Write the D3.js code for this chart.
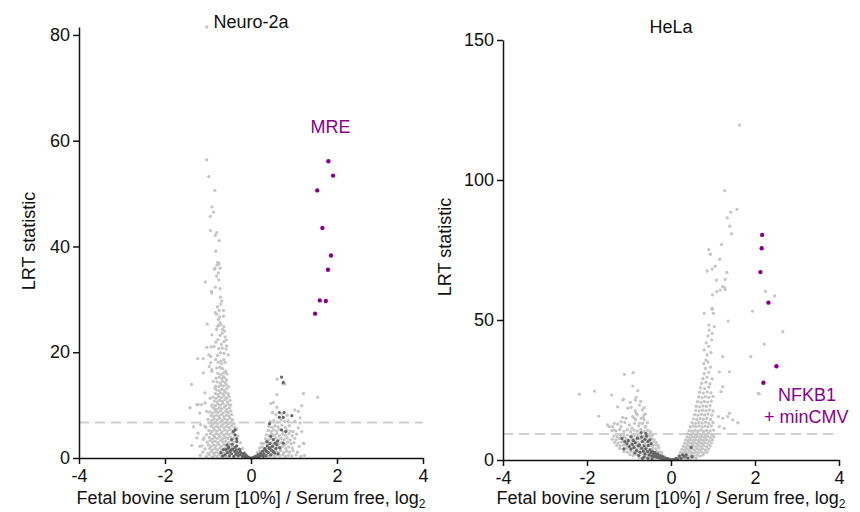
<!DOCTYPE html>
<html>
<head>
<meta charset="utf-8">
<script src="https://cdn.jsdelivr.net/npm/d3@7"></script>
<style>
body { margin: 0; background: #fff; }
text { font-family: 'Liberation Sans', Arial, sans-serif; fill: #111; }
</style>
</head>
<body>
<svg id="chart" width="860" height="512"></svg>
<script>
const xTicks = [-4, -2, 0, 2, 4];
const n2aTicks = [0, 20, 40, 60, 80];
const helaTicks = [0, 50, 100, 150];
const n2aCutoff = 6.7;
const helaCutoff = 9.3;

// Neuro-2a, light grey points [log2 ratio, LRT]
const n2aGrey = [
  [-1.03,81.5],[-1.03,56.4],[-0.98,53.2],[-0.84,50.6],[-0.91,47.5],[-0.87,46.5],[-0.95,45.7],[-0.94,43.0],[-0.80,42.6],[-0.83,42.1],
  [-0.74,41.1],[-0.82,39.1],[-0.77,37.0],[-0.74,36.7],[-0.84,35.9],[-0.72,35.9],[-0.79,36.5],[-0.85,35.7],[-0.76,35.0],[-1.06,33.3],
  [-0.83,32.3],[-0.72,32.0],[-0.92,31.5],[-0.91,31.2],[-0.68,29.7],[-0.70,29.1],[-0.74,27.9],[-0.64,27.9],[-0.83,27.5],[-0.80,27.2],
  [-0.73,26.7],[-0.64,26.8],[-0.72,25.6],[-0.75,25.1],[-0.78,24.9],[-1.02,25.3],[-0.66,24.3],[-0.61,24.0],[-0.63,24.8],[-0.91,23.3],
  [-0.60,22.9],[-0.58,22.3],[-0.63,22.0],[-0.82,21.9],[-1.03,20.9],[-0.93,21.0],[-0.86,21.1],[-0.67,20.8],[-0.57,21.2],[-0.58,20.6],
  [-0.98,19.5],[-0.94,19.2],[-0.63,19.8],[-0.53,19.5],[-1.24,18.8],[-1.11,18.8],[-0.82,18.6],[-0.94,18.0],[-0.70,18.3],[-0.60,18.1],
  [-0.97,17.3],[-0.91,16.7],[-0.70,17.0],[-1.11,16.1],[-0.56,15.9],
  [-1.38,13.9],[-0.91,16.4],[-0.88,14.5],[-0.64,15.4],[-0.57,14.8],[-0.84,13.2],[-1.07,12.3],[-0.95,11.3],[-1.23,10.1],[-1.15,10.1],
  [-1.07,10.4],[-1.42,9.5],[-1.19,8.5],[-0.91,9.8],[-1.03,8.8],[-1.07,6.0],[-1.23,4.7],[-1.11,3.5],[-1.26,3.8],[-1.19,2.2],
  [-1.38,2.4],[-1.17,6.3],[-1.34,5.9],[-1.26,10.1],
  [-1.18,0.5],[-1.04,0.3],[-0.97,0.6],[-0.90,0.2],[-0.85,0.5],[-0.79,0.3],[-0.73,0.6],[-0.68,0.2],[-0.62,0.4],[-0.57,0.2],
  [-1.12,1.1],[-1.00,0.9],[-0.93,1.2],[-0.87,0.9],[-0.81,1.1],[-0.75,0.9],[-0.70,1.2],[-0.64,0.9],[-0.58,1.1],[-0.51,0.8],
  [-1.07,1.7],[-0.96,1.8],[-0.90,1.5],[-0.84,1.8],[-0.78,1.6],[-0.72,1.9],[-0.67,1.5],[-0.61,1.8],[-0.54,1.6],[-0.47,1.9],[-0.42,1.5],
  [-1.14,2.3],[-0.99,2.5],[-0.93,2.2],[-0.87,2.5],[-0.81,2.3],[-0.75,2.6],[-0.69,2.2],[-0.63,2.5],[-0.57,2.3],[-0.50,2.6],[-0.43,2.3],
  [-1.02,3.0],[-0.95,3.3],[-0.89,3.0],[-0.83,3.2],[-0.77,2.9],[-0.71,3.3],[-0.65,3.0],[-0.59,3.2],[-0.52,2.9],[-0.46,3.3],[-0.40,3.0],
  [-1.09,3.8],[-0.97,3.9],[-0.90,3.6],[-0.84,3.9],[-0.78,3.7],[-0.72,4.0],[-0.66,3.6],[-0.60,3.9],[-0.54,3.7],[-0.48,4.0],[-0.41,3.7],[-0.35,3.9],
  [-1.03,4.4],[-0.94,4.6],[-0.87,4.3],[-0.81,4.6],[-0.75,4.4],[-0.69,4.7],[-0.63,4.3],[-0.57,4.6],[-0.51,4.4],[-0.44,4.7],[-0.38,4.4],
  [-0.98,5.2],[-0.91,5.0],[-0.85,5.3],[-0.79,5.1],[-0.73,5.4],[-0.67,5.0],[-0.61,5.3],[-0.55,5.1],[-0.49,5.4],[-0.42,5.1],[-0.36,5.3],
  [-1.05,5.8],[-0.93,6.0],[-0.87,5.7],[-0.81,6.0],[-0.75,5.8],[-0.69,6.1],[-0.63,5.7],[-0.57,6.0],[-0.51,5.8],[-0.45,6.1],[-0.38,5.8],
  [-0.96,6.6],[-0.89,6.4],[-0.83,6.7],[-0.77,6.5],[-0.71,6.8],[-0.65,6.4],[-0.59,6.7],[-0.53,6.5],[-0.47,6.8],[-0.40,6.5],
  [-1.00,7.3],[-0.91,7.1],[-0.85,7.4],[-0.79,7.2],[-0.73,7.5],[-0.67,7.1],[-0.61,7.4],[-0.55,7.2],[-0.49,7.5],[-0.43,7.2],
  [-0.93,8.0],[-0.87,7.8],[-0.81,8.1],[-0.75,7.9],[-0.69,8.2],[-0.63,7.8],[-0.57,8.1],[-0.51,7.9],[-0.45,8.2],
  [-0.96,8.7],[-0.89,8.5],[-0.83,8.8],[-0.77,8.6],[-0.71,8.9],[-0.65,8.5],[-0.59,8.8],[-0.53,8.6],[-0.47,8.9],
  [-0.86,9.4],[-0.80,9.2],[-0.74,9.5],[-0.68,9.3],[-0.62,9.6],[-0.56,9.2],[-0.50,9.5],
  [-0.90,10.1],[-0.83,9.9],[-0.77,10.2],[-0.71,10.0],[-0.65,10.3],[-0.59,9.9],[-0.53,10.2],[-0.47,10.0],
  [-0.85,10.8],[-0.79,10.6],[-0.73,10.9],[-0.67,10.7],[-0.61,11.0],[-0.55,10.6],[-0.49,10.9],
  [-0.88,11.5],[-0.81,11.3],[-0.75,11.6],[-0.69,11.4],[-0.63,11.7],[-0.57,11.3],[-0.51,11.6],
  [-0.83,12.2],[-0.77,12.0],[-0.71,12.3],[-0.65,12.1],[-0.59,12.4],[-0.53,12.1],
  [-0.80,12.9],[-0.74,12.7],[-0.68,13.0],[-0.62,12.8],[-0.56,13.1],
  [-0.82,13.6],[-0.75,13.5],[-0.70,13.8],[-0.64,13.6],[-0.58,13.9],[-0.52,13.5],
  [-0.79,14.4],[-0.72,14.2],[-0.66,14.5],[-0.60,14.3],[-0.81,15.1],[-0.74,15.3],[-0.68,15.0],[-0.62,15.2],
  [-0.77,16.0],[-0.70,15.8],[-0.64,16.1],[-0.59,16.4],[-0.80,17.0],[-0.73,17.2],[-0.66,16.9],
  [-0.76,18.1],[-0.68,17.8],[-0.63,18.6],[-0.78,19.4],[-0.71,19.9],[-0.75,20.7],[-0.69,21.5],[-0.77,22.4],[-0.72,23.2],
  [-0.67,23.6],[-0.80,24.3],[-0.70,25.2],[-0.76,26.2],[-0.78,28.6],[-0.71,30.4],[-0.75,33.7],[-0.80,34.4],
  [-0.10,0.4],[-0.15,1.0],[-0.20,1.8],[-0.25,2.9],[-0.30,4.2],[-0.33,5.5],[0.10,0.4],[0.15,1.0],[0.20,1.9],[0.24,2.8],
  [0.16,0.3],[0.22,0.6],[0.30,0.3],[0.36,0.6],[0.42,0.3],[0.48,0.5],[0.55,0.3],[0.61,0.6],[0.67,0.4],[0.74,0.6],[0.80,0.3],[0.87,0.5],[0.95,0.4],[1.05,0.6],[1.16,0.3],[1.24,0.5],
  [0.20,1.3],[0.27,1.0],[0.33,1.3],[0.39,1.1],[0.45,1.4],[0.51,1.0],[0.57,1.3],[0.63,1.1],[0.69,1.4],[0.76,1.0],[0.83,1.3],[0.90,1.1],[0.98,1.4],[1.08,1.1],
  [0.26,2.1],[0.32,1.8],[0.38,2.1],[0.44,1.9],[0.50,2.2],[0.56,1.8],[0.62,2.1],[0.68,1.9],[0.74,2.2],[0.81,1.8],[0.88,2.1],[0.96,1.9],[1.12,2.2],
  [0.29,2.7],[0.35,3.0],[0.41,2.7],[0.47,2.9],[0.53,2.6],[0.59,3.0],[0.65,2.7],[0.71,2.9],[0.78,2.6],[0.85,3.0],[0.93,2.7],[1.00,2.9],[1.23,2.7],
  [0.34,3.6],[0.40,3.4],[0.46,3.7],[0.52,3.5],[0.58,3.8],[0.64,3.4],[0.70,3.7],[0.77,3.5],[0.84,3.8],[0.91,3.4],[1.02,3.7],
  [0.36,4.4],[0.42,4.2],[0.48,4.5],[0.54,4.3],[0.60,4.6],[0.66,4.2],[0.73,4.5],[0.80,4.3],[0.88,4.6],[0.96,4.2],[1.06,4.5],
  [0.40,5.2],[0.47,5.0],[0.53,5.3],[0.60,5.1],[0.67,5.4],[0.75,5.0],[0.84,5.3],[0.92,5.1],[0.98,5.0],[1.18,5.0],
  [0.42,6.0],[0.49,5.8],[0.56,6.1],[0.63,5.9],[0.72,6.2],[0.80,5.8],[0.89,6.1],[1.02,6.9],[1.14,6.6],[1.10,5.7],
  [0.45,6.9],[0.53,7.1],[0.62,6.8],[0.70,7.2],[0.78,6.9],[0.86,7.0],[1.14,7.6],
  [0.50,8.6],[0.58,8.2],[0.60,9.6],[0.72,8.3],[0.84,8.1],[1.02,9.1],[1.10,8.8],[0.52,10.5],[0.46,10.3],[0.60,12.0],
  [1.22,12.2],[1.55,11.5],[1.18,9.9],[0.61,14.9],[0.74,14.0],[0.79,14.0],[1.22,2.8]
];

const n2aDark = [
  [-0.05,0.1],[-0.10,0.3],[-0.14,0.2],[-0.18,0.5],[-0.12,0.6],[-0.22,0.9],[-0.20,0.3],[-0.26,0.6],[-0.25,1.2],[-0.30,0.4],
  [-0.31,1.0],[-0.28,1.7],[-0.35,0.7],[-0.34,1.5],[-0.33,2.3],[-0.38,1.2],[-0.40,0.3],[-0.37,2.0],[-0.42,1.7],[-0.45,0.8],
  [-0.44,2.6],[-0.48,1.4],[-0.50,0.4],[-0.52,2.1],[-0.55,1.0],[-0.58,1.6],[-0.60,0.6],[-0.64,1.6],[-0.56,2.5],[-0.53,1.9],
  [-0.45,1.6],[-0.49,1.2],[-0.37,4.4],[-0.41,5.0],[-0.45,3.5],[-0.33,3.1],[-0.37,5.3],[-0.33,3.6],[-0.26,1.6],[-0.16,0.9],
  [-0.08,0.2],[-0.03,0.05],[-0.70,1.0],[-0.66,0.4],
  [0.03,0.05],[0.06,0.1],[0.10,0.3],[0.13,0.2],[0.16,0.6],[0.20,0.4],[0.22,0.9],[0.25,0.5],[0.27,1.3],[0.30,0.8],
  [0.32,1.8],[0.35,0.4],[0.36,1.3],[0.38,2.3],[0.40,1.0],[0.42,1.8],[0.44,2.7],[0.46,0.6],[0.48,1.5],[0.50,2.2],
  [0.52,3.5],[0.37,3.1],[0.60,2.5],[0.44,1.9],[0.67,1.9],[0.33,1.6],[0.52,1.2],[0.75,2.8],[0.46,4.1],[0.43,6.5],
  [0.71,5.3],[0.81,5.0],[0.66,8.6],[0.77,8.6],[0.66,7.7],[0.75,7.7],[0.95,8.0],[0.71,15.3],[0.75,14.3],[0.55,0.9],
  [0.58,1.8],[0.63,0.8],[0.28,0.3],[0.18,0.15],[0.62,3.2],[0.56,2.8]
];

const n2aMre = [
  [1.80,56.1],[1.91,53.4],[1.54,50.6],[1.66,43.5],[1.86,38.3],[1.79,35.6],[1.60,29.8],[1.74,29.7],[1.49,27.3]
];

// HeLa
const helaGrey = [
  [-2.18,23.5],[-1.82,24.6],[-1.41,23.2],[-1.11,30.6],[-0.90,31.2],[-0.91,26.4],[-1.72,15.7],[-1.27,19.0],[-1.13,21.7],[-1.15,21.4],
  [-1.03,18.5],[-0.95,18.8],[-0.83,22.4],[-0.85,21.4],[-0.75,19.6],[-0.68,17.9],[-0.85,17.5],[-0.72,20.9],[-0.97,20.6],[-0.79,24.8],
  [-0.64,18.7],[-0.83,16.7],[-0.64,16.1],[-0.87,14.9],[-1.19,13.7],[-0.64,14.3],[-0.75,13.1],[-0.60,11.9],[-1.47,11.9],[-1.35,10.7],
  [-1.51,12.5],[-1.39,11.9],[-1.35,13.1],[-1.19,11.9],[-0.99,12.5],[-0.87,13.1],[-0.68,13.1],[-0.56,13.3],[-1.10,13.4],[-0.77,12.2],
  [-0.62,11.8],[-0.93,11.4],[-1.27,12.8],[-1.07,14.9],[-0.91,15.5],[-0.80,16.1],[-0.71,14.9],[-0.61,16.4],[-1.15,15.2],[-0.84,14.4],[-0.66,15.2],
  [-1.31,10.4],[-1.22,10.9],[-1.12,10.2],[-1.04,10.8],[-0.96,10.1],[-0.88,10.7],[-0.80,10.3],[-0.72,10.9],[-0.64,10.2],[-0.56,10.6],[-0.49,10.1],[-1.41,10.5],
  [-1.36,8.6],[-1.28,8.3],[-1.20,8.8],[-1.12,8.4],[-1.04,8.9],[-0.96,8.5],[-0.88,8.8],[-0.80,8.3],[-0.72,8.7],[-0.64,8.4],[-0.57,8.8],[-0.50,8.5],[-0.44,8.9],
  [-1.40,7.4],[-1.31,7.2],[-1.23,7.6],[-1.15,7.3],[-1.07,7.6],[-0.99,7.2],[-0.91,7.5],[-0.83,7.3],[-0.75,7.6],[-0.67,7.2],[-0.60,7.5],[-0.53,7.3],[-0.46,7.6],[-0.40,7.2],
  [-1.34,6.3],[-1.26,6.1],[-1.18,6.4],[-1.10,6.2],[-1.02,6.5],[-0.94,6.1],[-0.86,6.4],[-0.78,6.2],[-0.70,6.5],[-0.62,6.1],[-0.55,6.4],[-0.48,6.2],[-0.41,6.5],[-0.35,6.2],
  [-1.29,5.2],[-1.21,5.0],[-1.13,5.3],[-1.05,5.1],[-0.97,5.4],[-0.89,5.0],[-0.81,5.3],[-0.73,5.1],[-0.65,5.4],[-0.57,5.0],[-0.50,5.3],[-0.43,5.1],[-0.36,5.4],[-0.30,5.1],
  [-1.22,4.1],[-1.14,3.9],[-1.06,4.2],[-0.98,4.0],[-0.90,4.3],[-0.82,3.9],[-0.74,4.2],[-0.66,4.0],[-0.58,4.3],[-0.50,3.9],[-0.43,4.2],[-0.36,4.0],[-0.29,4.3],
  [-1.12,3.0],[-1.04,2.8],[-0.96,3.1],[-0.88,2.9],[-0.80,3.2],[-0.72,2.8],[-0.64,3.1],[-0.56,2.9],[-0.48,3.2],[-0.41,2.8],[-0.34,3.1],[-0.27,2.9],[-0.22,2.6],
  [-0.98,1.9],[-0.90,1.7],[-0.82,2.0],[-0.74,1.8],[-0.66,2.1],[-0.58,1.7],[-0.50,2.0],[-0.42,1.8],[-0.35,2.1],[-0.28,1.7],[-0.22,1.6],[-0.17,1.3],
  [-0.76,0.9],[-0.68,0.7],[-0.60,1.0],[-0.52,0.8],[-0.44,1.1],[-0.36,0.7],[-0.29,1.0],[-0.22,0.8],[-0.15,0.6],[-0.10,0.4],[-0.05,0.2],
  [0.05,0.2],[0.10,0.4],[0.16,0.7],[0.22,0.5],[0.28,0.8],[0.34,0.6],[0.40,0.9],[0.46,0.5],[0.53,0.8],[0.60,0.6],
  [0.18,1.5],[0.24,1.8],[0.30,1.5],[0.36,1.7],[0.42,1.4],[0.48,1.8],[0.55,1.5],[0.62,1.7],[0.69,1.4],[0.76,1.8],
  [0.22,2.7],[0.28,2.5],[0.34,2.8],[0.40,2.6],[0.46,2.9],[0.52,2.5],[0.58,2.8],[0.65,2.6],[0.72,2.9],[0.79,2.5],[0.86,2.8],
  [0.26,3.8],[0.32,3.6],[0.38,3.9],[0.44,3.7],[0.50,4.0],[0.56,3.6],[0.62,3.9],[0.68,3.7],[0.75,4.0],[0.82,3.6],[0.90,3.9],
  [0.29,4.9],[0.35,4.7],[0.41,5.0],[0.47,4.8],[0.53,5.1],[0.59,4.7],[0.65,5.0],[0.71,4.8],[0.78,5.1],[0.85,4.7],[0.93,5.0],
  [0.32,6.0],[0.38,5.8],[0.44,6.1],[0.50,5.9],[0.56,6.2],[0.62,5.8],[0.68,6.1],[0.74,5.9],[0.81,6.2],[0.88,5.8],[0.96,6.1],
  [0.35,7.1],[0.41,6.9],[0.47,7.2],[0.53,7.0],[0.59,7.3],[0.65,6.9],[0.71,7.2],[0.77,7.0],[0.84,7.3],[0.91,6.9],[0.99,7.2],
  [0.38,8.2],[0.44,8.0],[0.50,8.3],[0.56,8.1],[0.62,8.4],[0.68,8.0],[0.74,8.3],[0.80,8.1],[0.87,8.4],[0.94,8.0],[1.02,8.3],
  [0.40,9.3],[0.46,9.1],[0.52,9.4],[0.58,9.2],[0.64,9.5],[0.70,9.1],[0.76,9.4],[0.82,9.2],[0.89,9.5],[0.97,9.1],
  [0.43,10.5],[0.50,10.3],[0.57,10.6],[0.64,10.4],[0.71,10.7],[0.78,10.3],[0.85,10.6],[0.93,10.4],[1.01,10.7],[1.15,11.9],[1.27,11.3],
  [0.46,11.8],[0.53,12.1],[0.60,11.9],[0.67,12.2],[0.74,11.8],[0.81,12.1],[0.88,11.9],[0.96,12.2],
  [0.50,13.3],[0.58,13.1],[0.66,13.4],[0.74,13.2],[0.82,13.5],[0.90,13.1],[1.00,13.4],[1.59,13.3],[1.47,14.3],
  [0.53,14.7],[0.61,14.5],[0.69,14.8],[0.77,14.6],[0.85,14.9],[0.94,14.5],[1.13,15.5],[1.23,14.9],[1.35,15.5],
  [0.56,16.2],[0.64,16.0],[0.72,16.3],[0.80,16.1],[0.88,16.4],[0.97,16.0],[1.39,16.7],
  [0.59,17.7],[0.67,17.5],[0.75,17.8],[0.83,17.6],[0.91,17.9],[1.00,17.5],
  [0.60,19.2],[0.68,19.0],[0.76,19.3],[0.84,19.1],[0.93,19.4],[0.63,20.8],[0.71,20.6],[0.79,20.9],[0.87,20.7],[0.96,21.0],
  [0.66,22.5],[0.74,22.3],[0.82,22.6],[0.90,22.4],[1.00,22.7],[0.68,24.2],[0.77,23.9],[0.86,24.3],[0.95,24.0],[1.19,24.4],
  [2.08,23.8],[0.70,25.8],[0.80,25.5],[0.90,26.0],[1.23,26.2],[0.73,27.4],[0.83,27.8],[0.93,27.2],[0.76,29.1],[0.86,29.6],
  [0.98,29.0],[0.79,30.8],[0.90,31.3],[1.15,31.5],[1.39,31.5],[0.82,32.7],[0.94,33.2],[0.78,34.4],[0.88,35.0],[0.83,35.7],
  [0.79,39.3],[1.23,36.9],[1.90,36.9],[0.86,37.5],[0.95,38.4],[0.90,40.6],[0.84,41.8],[0.97,42.9],[0.88,44.3],[0.91,46.4],
  [0.98,45.2],[1.03,47.6],[0.90,48.2],[1.36,49.6],[0.79,52.4],[0.98,53.8],[1.01,52.4],[1.94,53.2],[2.22,41.4],[2.66,45.8],
  [2.10,23.6],[0.98,54.2],[0.99,59.0],[1.17,60.7],[1.28,61.5],[1.09,60.1],[1.23,61.9],[1.29,60.9],[1.08,64.2],[1.29,64.5],
  [1.33,67.0],[0.86,67.5],[0.98,68.2],[1.05,69.2],[1.16,71.7],[0.90,75.1],[0.94,73.5],[1.20,77.0],[1.44,80.8],[1.40,83.5],
  [1.34,86.5],[1.42,88.5],[1.57,89.5],[1.28,96.2],[1.63,119.6],[2.25,60.2],[2.47,58.6]
];

const helaDark = [
  [-1.17,7.7],[-0.95,8.3],[-0.99,4.8],[-0.71,9.8],[-0.60,9.5],[-1.10,6.6],[-1.05,5.8],[-0.90,7.0],[-0.85,6.2],[-0.80,7.8],
  [-0.75,5.4],[-0.70,8.2],[-0.68,6.6],[-0.64,5.0],[-0.62,7.4],[-0.58,8.5],[-0.95,3.9],[-0.88,4.5],[-0.82,3.4],[-0.78,5.0],
  [-0.74,2.8],[-0.70,4.2],[-0.66,3.2],[-0.62,2.2],[-0.60,4.0],[-0.56,3.0],[-0.54,5.2],[-0.52,1.8],[-0.50,3.6],[-0.48,2.6],
  [-0.46,1.4],[-0.44,3.0],[-0.42,2.1],[-0.40,1.2],[-0.38,2.6],[-0.36,1.7],[-0.34,0.9],[-0.32,2.2],[-0.30,1.3],[-0.28,0.7],
  [-0.26,1.6],[-0.24,0.9],[-0.22,0.4],[-0.20,1.2],[-0.18,0.6],[-0.16,0.3],[-0.14,0.8],[-0.12,0.4],[-0.10,0.2],[-0.08,0.5],
  [-0.06,0.1],[-0.04,0.3],[-0.02,0.1],[-0.86,2.5],[-0.92,5.6],[-1.02,6.9],[-0.77,1.6],[-0.64,1.1],[-0.55,0.6],[-0.68,0.6],
  [-0.45,0.4],[-1.12,4.0],[-0.55,6.6],[-0.50,7.2],[-0.47,5.8],
  [0.48,4.5],[0.28,1.8],[0.32,1.2],[0.20,1.4],[0.50,1.2],[0.36,1.8],[0.12,0.6],[0.24,0.6],[0.08,0.2],[0.16,0.3],[0.40,0.7],[0.03,0.1]
];

const helaNfkb = [
  [2.17,80.4],[2.16,75.6],[2.13,67.1],[2.32,56.2],[2.51,33.5],[2.20,27.6]
];

const svg = d3.select('#chart');

function drawPanel(p) {
  const x = d3.scaleLinear()
  .domain([-4, 4])
  .range(p.xRange);

  const y = d3.scaleLinear()
  .domain([0, p.yMax])
  .range(p.yRange);

  const g = svg.append('g');

  g.append('line')
  .attr('x1', x(-4))
  .attr('x2', x(4))
  .attr('y1', y(p.cutoff))
  .attr('y2', y(p.cutoff))
  .attr('stroke', '#cfcfcf')
  .attr('stroke-width', 2)
  .attr('stroke-dasharray', '10,6');

  g.selectAll('circle.grey')
  .data(p.grey)
  .enter()
  .append('circle')
  .attr('class', 'grey')
  .attr('cx', d => x(d[0]))
  .attr('cy', d => y(d[1]))
  .attr('r', 1.65)
  .attr('fill', '#c6c6c6');

  g.selectAll('circle.dark')
  .data(p.dark)
  .enter()
  .append('circle')
  .attr('class', 'dark')
  .attr('cx', d => x(d[0]))
  .attr('cy', d => y(d[1]))
  .attr('r', 1.6)
  .attr('fill', '#666666');

  g.selectAll('circle.hit')
  .data(p.hits)
  .enter()
  .append('circle')
  .attr('class', 'hit')
  .attr('cx', d => x(d[0]))
  .attr('cy', d => y(d[1]))
  .attr('r', 2.2)
  .attr('fill', '#8b008b');

  const xAxis = g.append('g')
  .attr('transform', `translate(0, ${y(0)})`)
  .call(d3.axisBottom(x).tickValues(xTicks).tickSize(6).tickSizeOuter(0).tickPadding(5).tickFormat(d => String(d)));

  const yAxis = g.append('g')
  .attr('transform', `translate(${x(-4)}, 0)`)
  .call(d3.axisLeft(y).tickValues(p.yTicks).tickSize(6).tickSizeOuter(0).tickPadding(3).tickFormat(d => String(d)));

  [xAxis, yAxis].forEach(a => {
    a.selectAll('path, line').attr('stroke', '#111').attr('stroke-width', 1.5);
    a.selectAll('text').style('font-size', '18px').style('font-family', "'Liberation Sans', Arial, sans-serif").attr('fill', '#111');
  });

  const xl = g.append('text')
  .attr('x', x(0))
  .attr('y', 504)
  .attr('text-anchor', 'middle')
  .style('font-size', '18px');
  xl.append('tspan').text('Fetal bovine serum [10%] / Serum free, log');
  xl.append('tspan').attr('dy', 4).style('font-size', '12px').text('2');

  g.append('text')
  .attr('transform', `translate(${p.yLabelX}, ${p.yLabelY}) rotate(-90)`)
  .attr('text-anchor', 'middle')
  .style('font-size', '18px')
  .text('LRT statistic');

  g.append('text')
  .attr('x', x(0))
  .attr('y', p.titleY)
  .attr('text-anchor', 'middle')
  .style('font-size', '18px')
  .text(p.title);

  p.hitLabel.forEach(l => {
    g.append('text')
    .attr('x', x(l.x))
    .attr('y', y(l.y))
    .attr('text-anchor', 'middle')
    .style('font-size', '18px')
    .style('fill', '#8b008b')
    .text(l.text);
  });
}

drawPanel({
  title: 'Neuro-2a', titleY: 28,
  xRange: [79, 423], yRange: [458, 27], yMax: 81.5, yTicks: n2aTicks,
  cutoff: n2aCutoff, grey: n2aGrey, dark: n2aDark, hits: n2aMre,
  yLabelX: 35, yLabelY: 241,
  hitLabel: [{text: 'MRE', x: 1.85, y: 61.5}]
});

drawPanel({
  title: 'HeLa', titleY: 33,
  xRange: [503, 839], yRange: [460, 40], yMax: 150, yTicks: helaTicks,
  cutoff: helaCutoff, grey: helaGrey, dark: helaDark, hits: helaNfkb,
  yLabelX: 451, yLabelY: 247,
  hitLabel: [{text: 'NFKB1', x: 3.24, y: 21.1}, {text: '+ minCMV', x: 3.22, y: 13.2}]
});
</script>
</body>
</html>
